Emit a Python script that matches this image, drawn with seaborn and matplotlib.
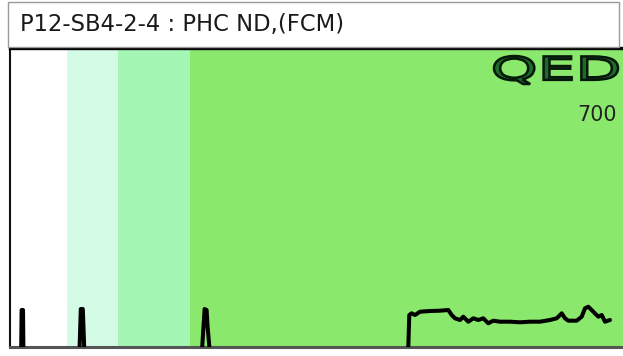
import numpy as np
import pandas as pd
import matplotlib
matplotlib.use("Agg")
import matplotlib.pyplot as plt
import seaborn as sns
from matplotlib.patches import Rectangle, PathPatch
from matplotlib.textpath import TextPath
from matplotlib.font_manager import FontProperties
from matplotlib.transforms import Affine2D

sns.set_theme(style="white")
plt.rcParams["font.family"] = ["DejaVu Sans"]

# ---- data ---------------------------------------------------------------
title = "P12-SB4-2-4 : PHC ND,(FCM)"
scale_label = "700"
logo = "QED"

# retention windows (start, end) and their shading
band_starts = [57, 108, 180]
band_ends = [108, 180, 613]
band_colors = ["#d3fbe6", "#a3f6b4", "#8ae86c"]

# detector trace, one list per peak / segment
peak1_x = [11.2, 11.6, 13.0, 13.4]
peak1_y = [0, 37, 37, 0]
peak2_x = [69.6, 70.8, 72.8, 74.2]
peak2_y = [0, 38, 38, 0]
peak3_x = [192.2, 194.6, 196.6, 197.6, 199.4]
peak3_y = [0, 38, 37, 20, 0]
hump_x = [398.3, 399.3, 401.7, 405, 410, 420, 430, 438.3, 441.7, 445, 450,
          453.3, 458.3, 463.3, 468.3, 473.3, 478.3, 483.3, 490, 500, 510, 520,
          530, 540, 546.7, 551.7, 555, 558.3, 566.7, 571.7, 575, 578.3, 583.3,
          588.3, 591.7, 595, 600]
hump_y = [0, 32, 33.7, 32, 35.3, 36, 36.3, 37, 32, 28.7, 27, 30.3, 25.3,
          28.7, 27, 28.7, 23.7, 26.3, 25.3, 25.3, 24.7, 25.3, 25.3, 27, 28.7,
          33.7, 28.7, 26.3, 26.3, 30.3, 38.7, 40.3, 35.3, 30.3, 32, 25.3, 27]

segments = [(peak1_x, peak1_y), (peak2_x, peak2_y),
            (peak3_x, peak3_y), (hump_x, hump_y)]
trace = pd.concat(
    [pd.DataFrame({"time": xs, "signal": ys, "seg": i})
     for i, (xs, ys) in enumerate(segments)],
    ignore_index=True,
)

# ---- figure -------------------------------------------------------------
W, H = 623, 356
fig = plt.figure(figsize=(W / 100, H / 100), dpi=100)
fig.patch.set_facecolor("white")
renderer = fig.canvas.get_renderer()


def fit_width(txt, target_px):
    """Scale a text's font size so it spans target_px pixels."""
    fs = txt.get_fontsize()
    w = txt.get_window_extent(renderer).width
    txt.set_fontsize(fs * target_px / w)


# header box
fig.patches.append(Rectangle((8 / W, 1 - 47 / H), 611 / W, 45 / H,
                             transform=fig.transFigure, facecolor="white",
                             edgecolor="#9a9a9a", linewidth=1.0, zorder=0))
t = fig.text(20 / W, 1 - 25 / H, title, fontsize=13, color="#1a1a1a",
             va="center", ha="left")
fit_width(t, 322)

ax = fig.add_axes([10 / W, 1 - 347 / H, 613 / W, 299 / H])
ax.set_facecolor("white")
for s, e, c in zip(band_starts, band_ends, band_colors):
    ax.axvspan(s, e, color=c, lw=0, zorder=0)

sns.lineplot(data=trace, x="time", y="signal", units="seg", estimator=None,
             sort=False, color="black", lw=2.9, ax=ax, legend=False,
             zorder=3)

ax.set_xlim(0, 613)
ax.set_ylim(0, 299)
ax.set_xticks([])
ax.set_yticks([])
ax.set_xlabel("")
ax.set_ylabel("")
ax.spines["right"].set_visible(False)
ax.spines["left"].set_color("#111111")
ax.spines["left"].set_linewidth(1.5)
ax.spines["top"].set_color("black")
ax.spines["top"].set_linewidth(2.4)
ax.spines["bottom"].set_color("#555555")
ax.spines["bottom"].set_linewidth(2.2)

s = ax.text(1 - 6 / 613, 1 - (115 - 48) / 299, scale_label,
            transform=ax.transAxes, ha="right", va="center", fontsize=13,
            color="#222222")
fit_width(s, 39)

# logo, stretched to its box
fp = FontProperties(family="DejaVu Sans", weight="normal")
tp = TextPath((0, 0), logo, size=40, prop=fp)
bb = tp.get_extents()
sx = 124 / bb.width
sy = 28 / bb.height
pix = Affine2D().translate(-bb.x0, -bb.y0).scale(sx, sy).translate(494, H - 84)
to_fig = Affine2D().scale(1 / W, 1 / H)
patch = PathPatch(tp, facecolor="#1e6a2c", edgecolor="#06180a", lw=1.8,
                  transform=pix + to_fig + fig.transFigure, zorder=5)
fig.patches.append(patch)

fig.savefig("out.png", dpi=100)
